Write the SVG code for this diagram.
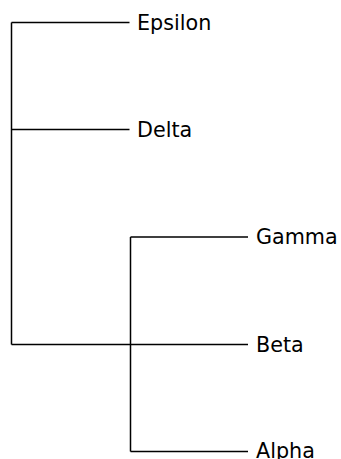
<svg xmlns="http://www.w3.org/2000/svg" width="341" height="459" viewBox="0 0 341 459">
<style>
.l{fill:none;stroke:#000;stroke-width:1.5;stroke-linecap:butt}
text{font-family:"DejaVu Sans",sans-serif;font-size:20.7px;fill:#000}
</style>
<rect width="341" height="459" fill="#fff"/>
<g id="connectors">
<path class="l" d="M130.5,237V451.5M130.5,237H248M130.5,451.5H248"/>
<path class="l" d="M11.5,22.5V344.5M11.5,22.5H129.5M11.5,129.5H129.5M11.5,344.5H248"/>
</g>
<g id="epsilon"><text x="137" y="29.5">Epsilon</text></g>
<g id="delta"><text x="137" y="136.5">Delta</text></g>
<g id="gamma"><text x="256" y="244">Gamma</text></g>
<g id="beta"><text x="256" y="351.5">Beta</text></g>
<g id="alpha"><text x="256" y="458">Alpha</text></g>
</svg>
